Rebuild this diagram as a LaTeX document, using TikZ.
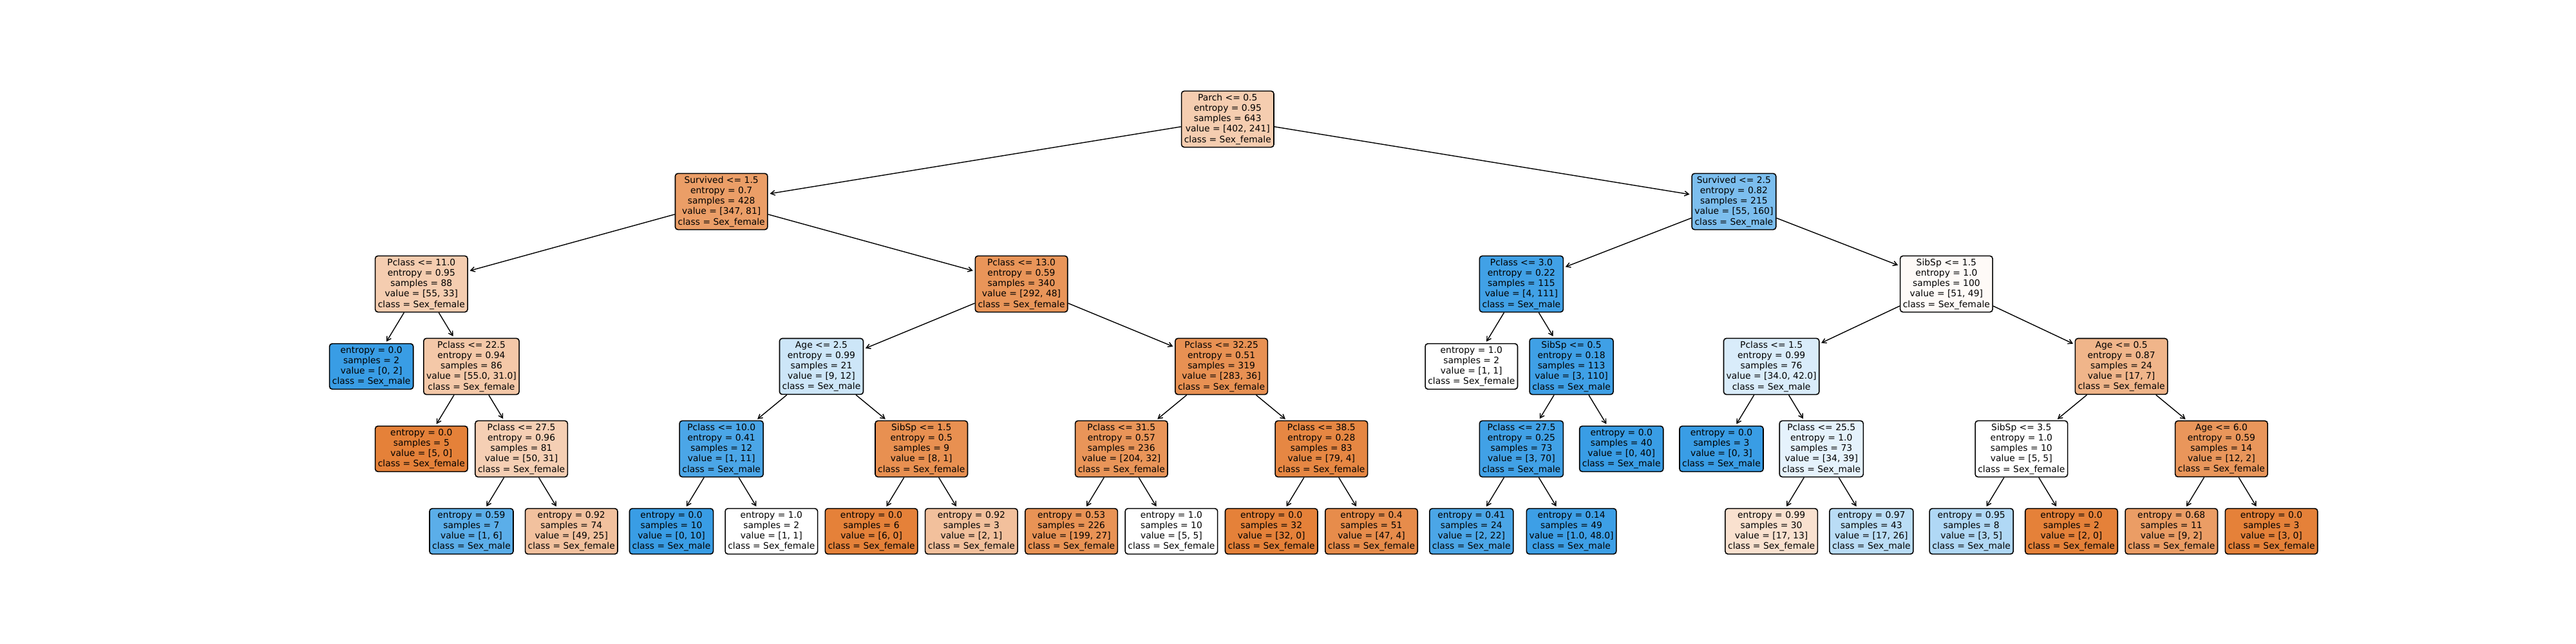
\documentclass[tikz,border=0pt]{standalone}
\usepackage{fontspec}
\setmainfont{DejaVu Sans}
\usetikzlibrary{arrows.meta}
\definecolor{ora}{RGB}{229,129,57}
\definecolor{blu}{RGB}{57,157,229}
\tikzset{
	box/.style={draw=black, line width=0.45pt, rounded corners=0.042cm, inner sep=0.042cm, align=center, font=\fontsize{3.95pt}{4.62pt}\selectfont},
	arr/.style={-{Straight Barb[length=0.065cm,width=0.075cm]}, line width=0.4pt, shorten >=0.028cm}
}

\begin{document}
\begin{tikzpicture}[x=0.7764cm, y=-1.28cm]
			\useasboundingbox (-7.428,-1.445) rectangle (44.092,6.367);
			% level 0 and 1
			\node[box, fill=ora!40!white] (t) at (17.125,0) {Parch <= 0.5\\entropy = 0.95\\samples = 643\\value = [402, 241]\\class = Sex\_female};
			\node[box, fill=ora!77!white] (a) at (7,1) {Survived <= 1.5\\entropy = 0.7\\samples = 428\\value = [347, 81]\\class = Sex\_female};
			\node[box, fill=blu!66!white] (b) at (27.25,1) {Survived <= 2.5\\entropy = 0.82\\samples = 215\\value = [55, 160]\\class = Sex\_male};
			% level 2
			\node[box, fill=ora!40!white] (aa) at (1,2) {Pclass <= 11.0\\entropy = 0.95\\samples = 88\\value = [55, 33]\\class = Sex\_female};
			\node[box, fill=ora!84!white] (ab) at (13,2) {Pclass <= 13.0\\entropy = 0.59\\samples = 340\\value = [292, 48]\\class = Sex\_female};
			\node[box, fill=blu!96!white] (ba) at (23,2) {Pclass <= 3.0\\entropy = 0.22\\samples = 115\\value = [4, 111]\\class = Sex\_male};
			\node[box, fill=ora!4!white] (bb) at (31.5,2) {SibSp <= 1.5\\entropy = 1.0\\samples = 100\\value = [51, 49]\\class = Sex\_female};
			% level 3
			\node[box, fill=blu] (aaa) at (0,3) {entropy = 0.0\\samples = 2\\value = [0, 2]\\class = Sex\_male};
			\node[box, fill=ora!44!white] (aab) at (2,3) {Pclass <= 22.5\\entropy = 0.94\\samples = 86\\value = [55.0, 31.0]\\class = Sex\_female};
			\node[box, fill=blu!25!white] (aba) at (9,3) {Age <= 2.5\\entropy = 0.99\\samples = 21\\value = [9, 12]\\class = Sex\_male};
			\node[box, fill=ora!87!white] (abb) at (17,3) {Pclass <= 32.25\\entropy = 0.51\\samples = 319\\value = [283, 36]\\class = Sex\_female};
			\node[box, fill=white] (baa) at (22,3) {entropy = 1.0\\samples = 2\\value = [1, 1]\\class = Sex\_female};
			\node[box, fill=blu!97!white] (bab) at (24,3) {SibSp <= 0.5\\entropy = 0.18\\samples = 113\\value = [3, 110]\\class = Sex\_male};
			\node[box, fill=blu!19!white] (bba) at (28,3) {Pclass <= 1.5\\entropy = 0.99\\samples = 76\\value = [34.0, 42.0]\\class = Sex\_male};
			\node[box, fill=ora!59!white] (bbb) at (35,3) {Age <= 0.5\\entropy = 0.87\\samples = 24\\value = [17, 7]\\class = Sex\_female};
			% level 4
			\node[box, fill=ora] (aaba) at (1,4) {entropy = 0.0\\samples = 5\\value = [5, 0]\\class = Sex\_female};
			\node[box, fill=ora!38!white] (aabb) at (3,4) {Pclass <= 27.5\\entropy = 0.96\\samples = 81\\value = [50, 31]\\class = Sex\_female};
			\node[box, fill=blu!91!white] (abaa) at (7,4) {Pclass <= 10.0\\entropy = 0.41\\samples = 12\\value = [1, 11]\\class = Sex\_male};
			\node[box, fill=ora!88!white] (abab) at (11,4) {SibSp <= 1.5\\entropy = 0.5\\samples = 9\\value = [8, 1]\\class = Sex\_female};
			\node[box, fill=ora!84!white] (abba) at (15,4) {Pclass <= 31.5\\entropy = 0.57\\samples = 236\\value = [204, 32]\\class = Sex\_female};
			\node[box, fill=ora!95!white] (abbb) at (19,4) {Pclass <= 38.5\\entropy = 0.28\\samples = 83\\value = [79, 4]\\class = Sex\_female};
			\node[box, fill=blu!96!white] (baba) at (23,4) {Pclass <= 27.5\\entropy = 0.25\\samples = 73\\value = [3, 70]\\class = Sex\_male};
			\node[box, fill=blu] (babb) at (25,4) {entropy = 0.0\\samples = 40\\value = [0, 40]\\class = Sex\_male};
			\node[box, fill=blu] (bbaa) at (27,4) {entropy = 0.0\\samples = 3\\value = [0, 3]\\class = Sex\_male};
			\node[box, fill=blu!13!white] (bbab) at (29,4) {Pclass <= 25.5\\entropy = 1.0\\samples = 73\\value = [34, 39]\\class = Sex\_male};
			\node[box, fill=white] (bbba) at (33,4) {SibSp <= 3.5\\entropy = 1.0\\samples = 10\\value = [5, 5]\\class = Sex\_female};
			\node[box, fill=ora!83!white] (bbbb) at (37,4) {Age <= 6.0\\entropy = 0.59\\samples = 14\\value = [12, 2]\\class = Sex\_female};
			% level 5
			\node[box, fill=blu!83!white] (aabba) at (2,5) {entropy = 0.59\\samples = 7\\value = [1, 6]\\class = Sex\_male};
			\node[box, fill=ora!49!white] (aabbb) at (4,5) {entropy = 0.92\\samples = 74\\value = [49, 25]\\class = Sex\_female};
			\node[box, fill=blu] (abaaa) at (6,5) {entropy = 0.0\\samples = 10\\value = [0, 10]\\class = Sex\_male};
			\node[box, fill=white] (abaab) at (8,5) {entropy = 1.0\\samples = 2\\value = [1, 1]\\class = Sex\_female};
			\node[box, fill=ora] (ababa) at (10,5) {entropy = 0.0\\samples = 6\\value = [6, 0]\\class = Sex\_female};
			\node[box, fill=ora!50!white] (ababb) at (12,5) {entropy = 0.92\\samples = 3\\value = [2, 1]\\class = Sex\_female};
			\node[box, fill=ora!86!white] (abbaa) at (14,5) {entropy = 0.53\\samples = 226\\value = [199, 27]\\class = Sex\_female};
			\node[box, fill=white] (abbab) at (16,5) {entropy = 1.0\\samples = 10\\value = [5, 5]\\class = Sex\_female};
			\node[box, fill=ora] (abbba) at (18,5) {entropy = 0.0\\samples = 32\\value = [32, 0]\\class = Sex\_female};
			\node[box, fill=ora!91!white] (abbbb) at (20,5) {entropy = 0.4\\samples = 51\\value = [47, 4]\\class = Sex\_female};
			\node[box, fill=blu!91!white] (babaa) at (22,5) {entropy = 0.41\\samples = 24\\value = [2, 22]\\class = Sex\_male};
			\node[box, fill=blu!98!white] (babab) at (24,5) {entropy = 0.14\\samples = 49\\value = [1.0, 48.0]\\class = Sex\_male};
			\node[box, fill=ora!24!white] (bbaba) at (28,5) {entropy = 0.99\\samples = 30\\value = [17, 13]\\class = Sex\_female};
			\node[box, fill=blu!35!white] (bbabb) at (30,5) {entropy = 0.97\\samples = 43\\value = [17, 26]\\class = Sex\_male};
			\node[box, fill=blu!40!white] (bbbaa) at (32,5) {entropy = 0.95\\samples = 8\\value = [3, 5]\\class = Sex\_male};
			\node[box, fill=ora] (bbbab) at (34,5) {entropy = 0.0\\samples = 2\\value = [2, 0]\\class = Sex\_female};
			\node[box, fill=ora!78!white] (bbbba) at (36,5) {entropy = 0.68\\samples = 11\\value = [9, 2]\\class = Sex\_female};
			\node[box, fill=ora] (bbbbb) at (38,5) {entropy = 0.0\\samples = 3\\value = [3, 0]\\class = Sex\_female};
			% edges
			\draw[arr] (t) -- (a);
			\draw[arr] (t) -- (b);
			\draw[arr] (a) -- (aa);
			\draw[arr] (a) -- (ab);
			\draw[arr] (b) -- (ba);
			\draw[arr] (b) -- (bb);
			\draw[arr] (aa) -- (aaa);
			\draw[arr] (aa) -- (aab);
			\draw[arr] (ab) -- (aba);
			\draw[arr] (ab) -- (abb);
			\draw[arr] (ba) -- (baa);
			\draw[arr] (ba) -- (bab);
			\draw[arr] (bb) -- (bba);
			\draw[arr] (bb) -- (bbb);
			\draw[arr] (aab) -- (aaba);
			\draw[arr] (aab) -- (aabb);
			\draw[arr] (aba) -- (abaa);
			\draw[arr] (aba) -- (abab);
			\draw[arr] (abb) -- (abba);
			\draw[arr] (abb) -- (abbb);
			\draw[arr] (bab) -- (baba);
			\draw[arr] (bab) -- (babb);
			\draw[arr] (bba) -- (bbaa);
			\draw[arr] (bba) -- (bbab);
			\draw[arr] (bbb) -- (bbba);
			\draw[arr] (bbb) -- (bbbb);
			\draw[arr] (aabb) -- (aabba);
			\draw[arr] (aabb) -- (aabbb);
			\draw[arr] (abaa) -- (abaaa);
			\draw[arr] (abaa) -- (abaab);
			\draw[arr] (abab) -- (ababa);
			\draw[arr] (abab) -- (ababb);
			\draw[arr] (abba) -- (abbaa);
			\draw[arr] (abba) -- (abbab);
			\draw[arr] (abbb) -- (abbba);
			\draw[arr] (abbb) -- (abbbb);
			\draw[arr] (baba) -- (babaa);
			\draw[arr] (baba) -- (babab);
			\draw[arr] (bbab) -- (bbaba);
			\draw[arr] (bbab) -- (bbabb);
			\draw[arr] (bbba) -- (bbbaa);
			\draw[arr] (bbba) -- (bbbab);
			\draw[arr] (bbbb) -- (bbbba);
			\draw[arr] (bbbb) -- (bbbbb);
		\end{tikzpicture}
\end{document}
